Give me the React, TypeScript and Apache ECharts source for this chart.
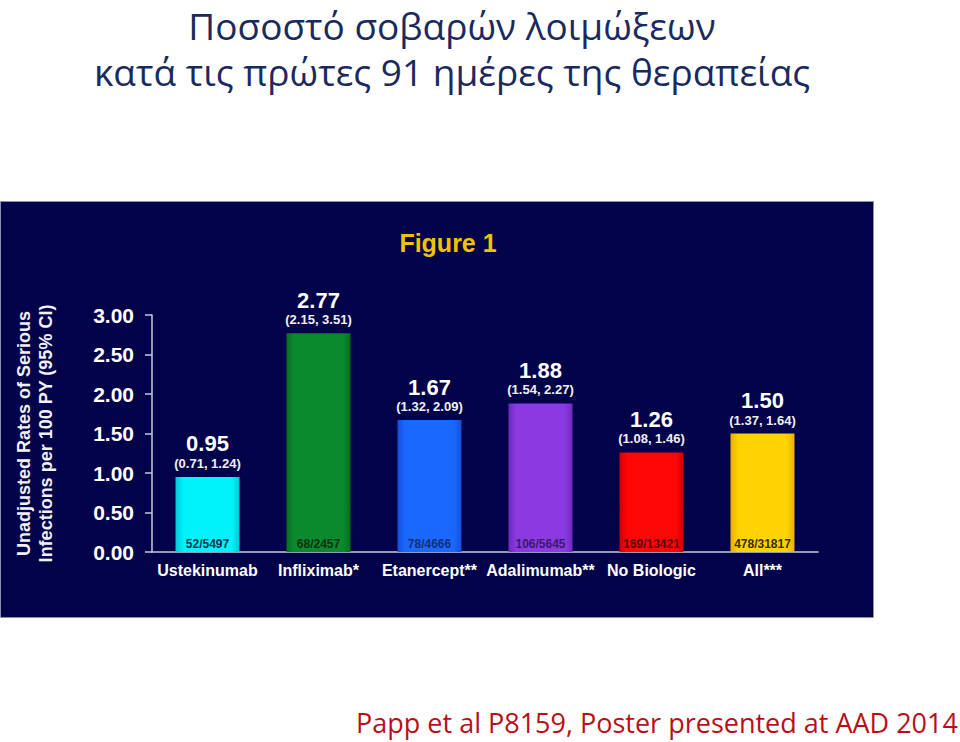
import React, { useEffect, useRef } from "react";
import * as echarts from "echarts";

const categories = ["Ustekinumab", "Infliximab*", "Etanercept**", "Adalimumab**", "No Biologic", "All***"];
const rates = [0.95, 2.77, 1.67, 1.88, 1.26, 1.5];
const ciLabels = ["(0.71, 1.24)", "(2.15, 3.51)", "(1.32, 2.09)", "(1.54, 2.27)", "(1.08, 1.46)", "(1.37, 1.64)"];
const counts = ["52/5497", "68/2457", "78/4666", "106/5645", "169/13421", "478/31817"];
const barColors = ["#00f2fa", "#0a8a2c", "#1b68ff", "#8a3ae0", "#ff0606", "#ffd200"];
const barEdgeColors = ["#00c8d8", "#066e22", "#1450d8", "#6e28c0", "#d00000", "#e8b000"];
const countColors = ["#0b3450", "#0b3212", "#12307a", "#3a1a6a", "#5a0000", "#3a2a00"];
const yTicks = [0, 0.5, 1, 1.5, 2, 2.5, 3];

const FONT = "'Liberation Sans', Arial, sans-serif";
const TITLE_FONT = "'Open Sans', 'Noto Sans', sans-serif";

export default function App() {
  const ref = useRef<HTMLDivElement>(null);
  useEffect(() => {
    if (!ref.current) return;
    const chart = echarts.init(ref.current, null, { renderer: "svg" });
    chart.setOption({
      animation: false,
      backgroundColor: "#ffffff",
      graphic: [
        {
          type: "rect",
          z: -10,
          shape: { x: 0.5, y: 201.5, width: 873, height: 416 },
          style: { fill: "#02024a", stroke: "#8a8fb0", lineWidth: 1 },
          silent: true,
        },
        {
          type: "text",
          x: 452,
          y: 2,
          style: {
            text: "Ποσοστό σοβαρών λοιμώξεων\nκατά τις πρώτες 91 ημέρες της θεραπείας",
            font: `37px ${TITLE_FONT}`,
            lineHeight: 46,
            fill: "#1a2a5e",
            align: "center",
            verticalAlign: "top",
          },
        },
        {
          type: "text",
          x: 448,
          y: 243,
          style: {
            text: "Figure 1",
            font: `bold 25px ${FONT}`,
            fill: "#f2c200",
            align: "center",
            verticalAlign: "middle",
          },
        },
        {
          type: "text",
          x: 657,
          y: 722,
          style: {
            text: "Papp et al P8159, Poster presented at AAD 2014",
            font: `27px ${TITLE_FONT}`,
            fill: "#b81018",
            align: "center",
            verticalAlign: "middle",
          },
        },
      ],
      grid: { left: 152, right: 142, top: 315, bottom: 190, containLabel: false },
      xAxis: {
        type: "category",
        data: categories,
        axisLine: { show: true, lineStyle: { color: "#c8c8dc", width: 1.5 } },
        axisTick: { show: false },
        axisLabel: {
          interval: 0,
          color: "#ffffff",
          fontFamily: FONT,
          fontWeight: "bold",
          fontSize: 16,
          margin: 10,
        },
      },
      yAxis: {
        type: "value",
        min: 0,
        max: 3,
        interval: 0.5,
        name: "Unadjusted Rates of Serious\nInfections per 100 PY (95% CI)",
        nameLocation: "middle",
        nameRotate: 90,
        nameGap: 95,
        nameTextStyle: {
          color: "#f0f0f6",
          fontFamily: FONT,
          fontWeight: "bold",
          fontSize: 18,
          lineHeight: 22,
        },
        splitLine: { show: false },
        axisLine: { show: true, lineStyle: { color: "#c8c8dc", width: 1.5 } },
        axisTick: { show: true, length: 7, lineStyle: { color: "#c8c8dc", width: 1.5 } },
        axisLabel: {
          color: "#ffffff",
          fontFamily: FONT,
          fontWeight: "bold",
          fontSize: 21,
          margin: 18,
          formatter: (v: number) => (yTicks.includes(v) ? v.toFixed(2) : ""),
        },
      },
      series: [
        {
          type: "bar",
          barWidth: 64,
          data: rates.map((v, i) => ({
            value: v,
            itemStyle: {
              color: new echarts.graphic.LinearGradient(0, 0, 1, 0, [
                { offset: 0, color: barEdgeColors[i] },
                { offset: 0.12, color: barColors[i] },
                { offset: 0.88, color: barColors[i] },
                { offset: 1, color: barEdgeColors[i] },
              ]),
            },
          })),
          label: {
            show: true,
            position: "top",
            distance: 6,
            formatter: (p: any) => `{v|${rates[p.dataIndex].toFixed(2)}}\n{c|${ciLabels[p.dataIndex]}}`,
            rich: {
              v: { color: "#ffffff", fontFamily: FONT, fontWeight: "bold", fontSize: 22, lineHeight: 24, align: "center" },
              c: { color: "#f0f0f0", fontFamily: FONT, fontWeight: "bold", fontSize: 13, lineHeight: 15, align: "center" },
            },
          },
          z: 2,
        },
        {
          type: "bar",
          barWidth: 64,
          barGap: "-100%",
          silent: true,
          data: rates.map((v, i) => ({
            value: v,
            itemStyle: { color: "rgba(0,0,0,0)" },
            label: { color: countColors[i] },
          })),
          label: {
            show: true,
            position: "insideBottom",
            distance: 2,
            fontFamily: FONT,
            fontWeight: "bold",
            fontSize: 12,
            formatter: (p: any) => counts[p.dataIndex],
          },
          z: 3,
        },
      ],
    });
    return () => chart.dispose();
  }, []);
  return (
    <div
      ref={ref}
      style={{ position: "fixed", left: 0, top: 0, width: 960, height: 742 }}
    />
  );
}
